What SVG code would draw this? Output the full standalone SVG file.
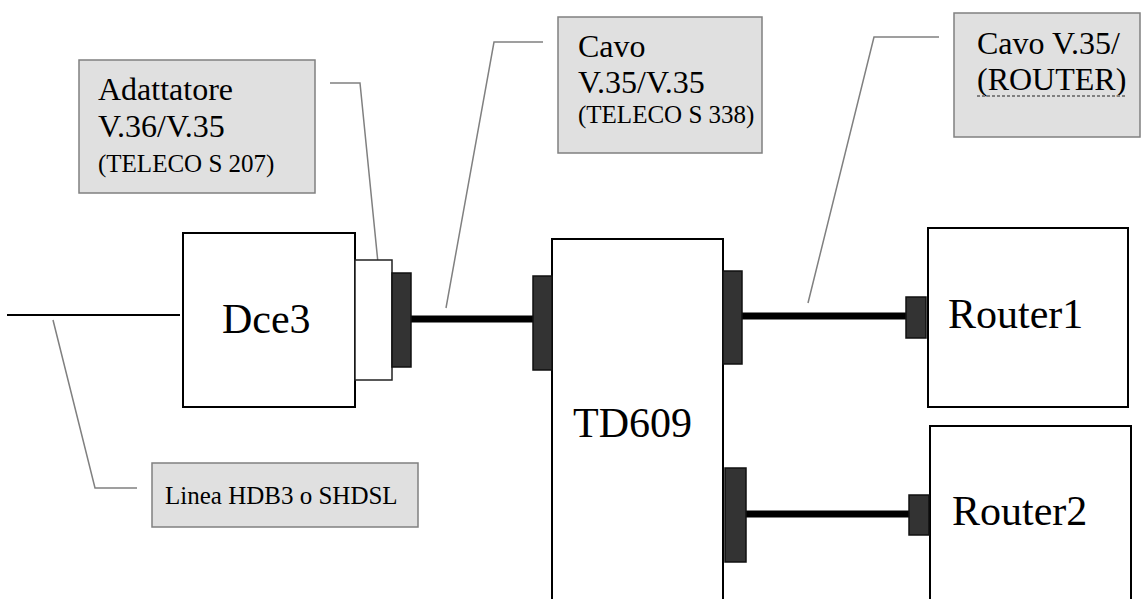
<svg xmlns="http://www.w3.org/2000/svg" width="1144" height="599" viewBox="0 0 1144 599">
<style>
.box{fill:#fff;stroke:#000;stroke-width:2}
.adapt{fill:#fff;stroke:#222;stroke-width:1.5}
.port{fill:#333;stroke:#111;stroke-width:1.5}
.cable{stroke:#000;stroke-width:7;fill:none}
.line{stroke:#000;stroke-width:2;fill:none}
.callout{stroke:#808080;stroke-width:1.5;fill:none}
.lbl{fill:#e0e0e0;stroke:#808080;stroke-width:1.5}
.t{font-family:'Liberation Serif','DejaVu Serif','Noto Serif','Times New Roman',serif;fill:#000}
.big{font-size:42px}
.mid{font-size:32px}
.sm{font-size:25px}
</style>
<rect width="1144" height="599" fill="#fff"/>
<g id="connectors">
<line class="line" x1="7" y1="315" x2="180" y2="315"/>
<line class="cable" x1="411" y1="319" x2="533" y2="319"/>
<line class="cable" x1="742" y1="316" x2="906" y2="316"/>
<line class="cable" x1="746" y1="514" x2="909" y2="514"/>
<polyline class="callout" points="330,83 360,83 379,273"/>
<polyline class="callout" points="543,42 494,42 446,308"/>
<polyline class="callout" points="939,37 874,37 808,303"/>
<polyline class="callout" points="53,320 95,488 137,488"/>
</g>
<g id="dce3">
<rect class="box" x="183" y="233" width="172" height="174"/>
<text class="t big" x="222" y="333" font-family="Liberation Serif">Dce3</text>
</g>
<g id="adapter">
<rect class="adapt" x="355" y="260" width="37" height="120"/>
<rect class="port" x="392" y="273" width="19" height="94"/>
</g>
<g id="td609">
<rect class="box" x="552" y="239" width="171" height="380"/>
<rect class="port" x="533" y="276" width="19" height="94"/>
<rect class="port" x="723" y="271" width="19" height="93"/>
<rect class="port" x="725" y="468" width="21" height="94"/>
<text class="t big" x="573" y="437">TD609</text>
</g>
<g id="router1">
<rect class="box" x="928" y="228" width="200" height="179"/>
<rect class="port" x="906" y="297" width="20" height="41"/>
<text class="t big" x="948" y="328">Router1</text>
</g>
<g id="router2">
<rect class="box" x="930" y="426" width="201" height="193"/>
<rect class="port" x="909" y="495" width="20" height="40"/>
<text class="t big" x="952" y="525">Router2</text>
</g>
<g id="label-adattatore">
<rect class="lbl" x="79" y="60" width="236" height="133"/>
<text class="t mid" x="98" y="100">Adattatore</text>
<text class="t mid" x="98" y="137">V.36/V.35</text>
<text class="t sm" x="98" y="172">(TELECO S 207)</text>
</g>
<g id="label-cavo">
<rect class="lbl" x="558" y="17" width="204" height="136"/>
<text class="t mid" x="578" y="57">Cavo</text>
<text class="t mid" x="578" y="93">V.35/V.35</text>
<text class="t sm" x="578" y="123">(TELECO S 338)</text>
</g>
<g id="label-cavo-router">
<rect class="lbl" x="954" y="13" width="186" height="124"/>
<text class="t mid" x="977" y="54">Cavo V.35/</text>
<text class="t mid" x="977" y="90">(ROUTER)</text>
<line x1="977" y1="96" x2="1126" y2="96" stroke="#808080" stroke-width="2" stroke-dasharray="3,2"/>
</g>
<g id="label-linea">
<rect class="lbl" x="152" y="463" width="266" height="64"/>
<text class="t sm" x="165" y="504">Linea HDB3 o SHDSL</text>
</g>
</svg>
